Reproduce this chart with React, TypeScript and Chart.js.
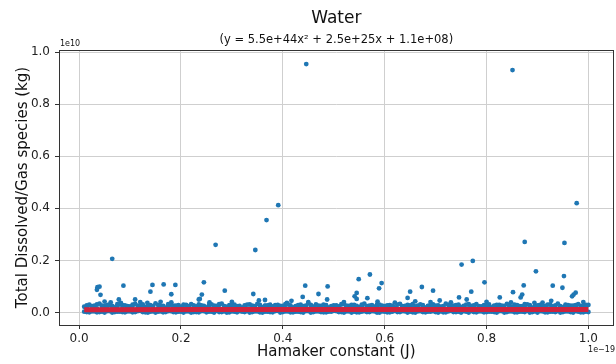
import React, { useEffect, useRef } from "react";
import { Chart, registerables } from "chart.js";

Chart.register(...registerables);

// Units: x in 1e-19 J, y in 1e10 kg
const xTicks = [0.0, 0.2, 0.4, 0.6, 0.8, 1.0];
const yTicks = [0.0, 0.2, 0.4, 0.6, 0.8, 1.0];

const bandX = [
  0.01, 0.02, 0.03, 0.04, 0.05, 0.06, 0.07, 0.08, 0.09, 0.1,
  0.11, 0.12, 0.13, 0.14, 0.15, 0.16, 0.17, 0.18, 0.19, 0.2,
  0.21, 0.22, 0.23, 0.24, 0.25, 0.26, 0.27, 0.28, 0.29, 0.3,
  0.31, 0.32, 0.33, 0.34, 0.35, 0.36, 0.37, 0.38, 0.39, 0.4,
  0.41, 0.42, 0.43, 0.44, 0.45, 0.46, 0.47, 0.48, 0.49, 0.5,
  0.51, 0.52, 0.53, 0.54, 0.55, 0.56, 0.57, 0.58, 0.59, 0.6,
  0.61, 0.62, 0.63, 0.64, 0.65, 0.66, 0.67, 0.68, 0.69, 0.7,
  0.71, 0.72, 0.73, 0.74, 0.75, 0.76, 0.77, 0.78, 0.79, 0.8,
  0.81, 0.82, 0.83, 0.84, 0.85, 0.86, 0.87, 0.88, 0.89, 0.9,
  0.91, 0.92, 0.93, 0.94, 0.95, 0.96, 0.97, 0.98, 0.99, 1.0,
];
const bandTopY = [
  0.022, 0.030, 0.026, 0.034, 0.024, 0.029, 0.020, 0.031, 0.027, 0.023,
  0.033, 0.025, 0.021, 0.028, 0.035, 0.024, 0.019, 0.030, 0.026, 0.022,
  0.029, 0.032, 0.023, 0.027, 0.020, 0.031, 0.025, 0.034, 0.022, 0.028,
  0.024, 0.019, 0.030, 0.026, 0.033, 0.021, 0.027, 0.023, 0.029, 0.025,
  0.031, 0.020, 0.028, 0.024, 0.035, 0.022, 0.026, 0.030, 0.019, 0.027,
  0.023, 0.032, 0.025, 0.029, 0.021, 0.034, 0.026, 0.022, 0.030, 0.024,
  0.028, 0.020, 0.033, 0.025, 0.027, 0.023, 0.031, 0.019, 0.029, 0.026,
  0.022, 0.034, 0.024, 0.028, 0.021, 0.030, 0.025, 0.032, 0.023, 0.027,
  0.020, 0.029, 0.026, 0.033, 0.022, 0.028, 0.024, 0.031, 0.019, 0.027,
  0.025, 0.030, 0.023, 0.034, 0.021, 0.028, 0.026, 0.032, 0.024, 0.029,
];
const bandLowY = [
  0.003, 0.001, 0.004, 0.002, 0.000, 0.005, 0.002, 0.003, 0.001, 0.004,
  0.002, 0.006, 0.001, 0.003, 0.000, 0.004, 0.002, 0.005, 0.001, 0.003,
  0.004, 0.000, 0.002, 0.005, 0.001, 0.003, 0.006, 0.002, 0.000, 0.004,
  0.001, 0.003, 0.005, 0.002, 0.004, 0.000, 0.003, 0.001, 0.006, 0.002,
  0.004, 0.001, 0.003, 0.000, 0.005, 0.002, 0.004, 0.001, 0.003, 0.006,
  0.002, 0.000, 0.004, 0.003, 0.001, 0.005, 0.002, 0.004, 0.000, 0.003,
  0.001, 0.006, 0.002, 0.004, 0.003, 0.000, 0.005, 0.001, 0.003, 0.002,
  0.004, 0.001, 0.006, 0.002, 0.000, 0.003, 0.005, 0.001, 0.004, 0.002,
  0.003, 0.000, 0.005, 0.002, 0.004, 0.001, 0.003, 0.006, 0.002, 0.000,
  0.004, 0.001, 0.003, 0.005, 0.002, 0.004, 0.000, 0.003, 0.001, 0.002,
];
const bandMidX = [
  0.015, 0.025, 0.035, 0.045, 0.055, 0.065, 0.075, 0.085, 0.095, 0.105,
  0.115, 0.125, 0.135, 0.145, 0.155, 0.165, 0.175, 0.185, 0.195, 0.205,
  0.215, 0.225, 0.235, 0.245, 0.255, 0.265, 0.275, 0.285, 0.295, 0.305,
  0.315, 0.325, 0.335, 0.345, 0.355, 0.365, 0.375, 0.385, 0.395, 0.405,
  0.415, 0.425, 0.435, 0.445, 0.455, 0.465, 0.475, 0.485, 0.495, 0.505,
  0.515, 0.525, 0.535, 0.545, 0.555, 0.565, 0.575, 0.585, 0.595, 0.605,
  0.615, 0.625, 0.635, 0.645, 0.655, 0.665, 0.675, 0.685, 0.695, 0.705,
  0.715, 0.725, 0.735, 0.745, 0.755, 0.765, 0.775, 0.785, 0.795, 0.805,
  0.815, 0.825, 0.835, 0.845, 0.855, 0.865, 0.875, 0.885, 0.895, 0.905,
  0.915, 0.925, 0.935, 0.945, 0.955, 0.965, 0.975, 0.985, 0.995,
];
const bandMidY = [
  0.018, 0.021, 0.016, 0.024, 0.019, 0.015, 0.022, 0.017, 0.020, 0.025,
  0.016, 0.019, 0.023, 0.018, 0.015, 0.021, 0.024, 0.017, 0.020, 0.016,
  0.022, 0.018, 0.025, 0.015, 0.019, 0.023, 0.017, 0.021, 0.016, 0.024,
  0.019, 0.022, 0.015, 0.020, 0.018, 0.025, 0.016, 0.021, 0.023, 0.017,
  0.020, 0.015, 0.024, 0.018, 0.022, 0.016, 0.019, 0.025, 0.017, 0.021,
  0.015, 0.023, 0.018, 0.020, 0.024, 0.016, 0.022, 0.019, 0.017, 0.021,
  0.025, 0.015, 0.020, 0.018, 0.023, 0.016, 0.021, 0.024, 0.017, 0.019,
  0.022, 0.015, 0.018, 0.025, 0.020, 0.016, 0.023, 0.019, 0.021, 0.017,
  0.024, 0.018, 0.015, 0.022, 0.020, 0.016, 0.025, 0.019, 0.021, 0.017,
  0.023, 0.016, 0.020, 0.018, 0.024, 0.015, 0.022, 0.019, 0.021,
];
const bandLow2Y = [
  0.002, 0.004, 0.001, 0.003, 0.005, 0.000, 0.003, 0.002, 0.004, 0.001,
  0.005, 0.002, 0.000, 0.004, 0.003, 0.001, 0.005, 0.002, 0.003, 0.000,
  0.004, 0.002, 0.001, 0.005, 0.003, 0.000, 0.002, 0.004, 0.001, 0.003,
  0.005, 0.002, 0.000, 0.004, 0.001, 0.003, 0.002, 0.005, 0.000, 0.004,
  0.001, 0.003, 0.002, 0.005, 0.000, 0.004, 0.002, 0.001, 0.003, 0.005,
  0.002, 0.004, 0.000, 0.001, 0.003, 0.002, 0.005, 0.000, 0.004, 0.001,
  0.003, 0.002, 0.005, 0.000, 0.001, 0.004, 0.002, 0.003, 0.005, 0.000,
  0.001, 0.004, 0.002, 0.003, 0.005, 0.000, 0.002, 0.004, 0.001, 0.003,
  0.002, 0.005, 0.000, 0.004, 0.001, 0.003, 0.002, 0.000, 0.004, 0.005,
  0.001, 0.003, 0.002, 0.000, 0.004, 0.002, 0.005, 0.001, 0.003,
];
const bandTop2Y = [
  0.027, 0.024, 0.031, 0.026, 0.029, 0.025, 0.032, 0.028, 0.024, 0.030,
  0.026, 0.031, 0.027, 0.024, 0.029, 0.025, 0.032, 0.026, 0.028, 0.030,
  0.024, 0.027, 0.031, 0.025, 0.029, 0.026, 0.032, 0.024, 0.028, 0.030,
  0.025, 0.027, 0.031, 0.024, 0.029, 0.026, 0.030, 0.028, 0.025, 0.032,
  0.027, 0.024, 0.030, 0.026, 0.029, 0.031, 0.025, 0.028, 0.024, 0.027,
  0.032, 0.026, 0.029, 0.025, 0.030, 0.024, 0.028, 0.031, 0.026, 0.027,
  0.025, 0.030, 0.024, 0.029, 0.032, 0.026, 0.028, 0.025, 0.031, 0.027,
  0.024, 0.029, 0.026, 0.030, 0.025, 0.032, 0.027, 0.024, 0.028, 0.031,
  0.026, 0.029, 0.025, 0.027, 0.030, 0.024, 0.032, 0.028, 0.026, 0.029,
  0.025, 0.031, 0.027, 0.024, 0.030, 0.026, 0.028, 0.025, 0.029,
];
const outlierX = [
  0.446, 0.851, 0.977, 0.391, 0.368, 0.875, 0.953, 0.268, 0.346, 0.065,
  0.773, 0.751, 0.897, 0.571, 0.952, 0.549, 0.245, 0.796, 0.594, 0.166,
  0.144, 0.189, 0.873, 0.087, 0.444, 0.930, 0.488, 0.040, 0.673, 0.036,
  0.949, 0.589, 0.035, 0.286, 0.695, 0.140, 0.650, 0.770, 0.852, 0.975,
  0.545, 0.342, 0.470, 0.181, 0.241, 0.971, 0.870, 0.042, 0.541, 0.968,
  0.439, 0.746, 0.826, 0.867, 0.645, 0.566, 0.237, 0.545, 0.078, 0.110,
  0.235, 0.487, 0.761, 0.365, 0.353, 0.708, 0.417, 0.927, 0.586, 0.062,
  0.181, 0.256, 0.848, 0.082, 0.134, 0.408, 0.894, 0.120, 0.300, 0.520,
  0.620, 0.690, 0.800, 0.910, 0.990, 0.050, 0.160, 0.450, 0.660, 0.730,
];
const outlierY = [
  0.954, 0.931, 0.420, 0.412, 0.355, 0.271, 0.267, 0.260, 0.240, 0.206,
  0.198, 0.184, 0.158, 0.146, 0.140, 0.128, 0.116, 0.116, 0.113, 0.108,
  0.106, 0.106, 0.104, 0.103, 0.103, 0.103, 0.100, 0.099, 0.098, 0.097,
  0.095, 0.093, 0.087, 0.084, 0.084, 0.080, 0.080, 0.080, 0.078, 0.076,
  0.075, 0.071, 0.071, 0.070, 0.069, 0.069, 0.069, 0.068, 0.062, 0.062,
  0.060, 0.058, 0.058, 0.058, 0.056, 0.055, 0.052, 0.052, 0.050, 0.050,
  0.050, 0.050, 0.050, 0.048, 0.046, 0.046, 0.045, 0.045, 0.042, 0.039,
  0.039, 0.039, 0.039, 0.037, 0.037, 0.037, 0.037, 0.040, 0.041, 0.040,
  0.038, 0.040, 0.041, 0.038, 0.040, 0.042, 0.041, 0.040, 0.043, 0.039,
];
// Fit curve y = 5.5e44x² + 2.5e25x + 1.1e8 sampled (scaled units)
const fitX = [0.01, 0.25, 0.5, 0.75, 1.0];
const fitY = [0.011, 0.0111, 0.01126, 0.0115, 0.0118];

const FONT = "'DejaVu Sans', sans-serif";
const BLUE = "#1f77b4";
const RED = "#d0223c";

const zip = (xs: number[], ys: number[]) => xs.map((x, i) => ({ x, y: ys[i] }));

const overlay = {
  id: "overlay",
  afterDraw(chart: any) {
    const { ctx, chartArea: a } = chart;
    ctx.save();
    ctx.strokeStyle = "#333";
    ctx.lineWidth = 1;
    ctx.strokeRect(Math.round(a.left) + 0.5, Math.round(a.top) + 0.5, Math.round(a.right - a.left) - 1, Math.round(a.bottom - a.top));
    const cx = (a.left + a.right) / 2;
    ctx.fillStyle = "#111";
    ctx.textAlign = "center";
    ctx.textBaseline = "middle";
    ctx.font = `17px ${FONT}`;
    ctx.fillText("Water", cx, 19);
    ctx.font = `11.5px ${FONT}`;
    ctx.fillText("(y = 5.5e+44x² + 2.5e+25x + 1.1e+08)", cx, 40);
    ctx.font = `15px ${FONT}`;
    ctx.fillText("Hamaker constant (J)", cx, 352);
    ctx.save();
    ctx.translate(23, (a.top + a.bottom) / 2);
    ctx.rotate(-Math.PI / 2);
    ctx.fillText("Total Dissolved/Gas species (kg)", 0, 0);
    ctx.restore();
    ctx.font = `8px ${FONT}`;
    ctx.textAlign = "left";
    ctx.fillText("1e10", a.left + 1, a.top - 6);
    ctx.textAlign = "right";
    ctx.fillText("1e\u221219", 615, 350);
    ctx.restore();
  },
};

export default function App() {
  const ref = useRef<HTMLCanvasElement>(null);
  useEffect(() => {
    if (!ref.current) return;
    const pointStyle = {
      backgroundColor: BLUE,
      borderWidth: 0,
      pointRadius: 2.4,
      pointHoverRadius: 2.4,
      order: 1,
    };
    const chart = new Chart(ref.current, {
      type: "scatter",
      data: {
        datasets: [
          { label: "low", data: zip(bandX, bandLowY), ...pointStyle },
          { label: "low2", data: zip(bandMidX, bandLow2Y), ...pointStyle },
          { label: "mid", data: zip(bandMidX, bandMidY), ...pointStyle },
          { label: "top", data: zip(bandX, bandTopY), ...pointStyle },
          { label: "top2", data: zip(bandMidX, bandTop2Y), ...pointStyle },
          { label: "out", data: zip(outlierX, outlierY), ...pointStyle },
          {
            label: "fit",
            data: zip(fitX, fitY),
            showLine: true,
            borderColor: RED,
            borderWidth: 5,
            pointRadius: 0,
            order: 0,
          } as any,
        ],
      },
      options: {
        animation: false,
        responsive: false,
        devicePixelRatio: 1,
        layout: { padding: { top: 50, right: 1, left: 0, bottom: 0 } },
        plugins: { legend: { display: false }, title: { display: false }, tooltip: { enabled: false } },
        scales: {
          x: {
            type: "linear",
            min: -0.0395,
            max: 1.0495,
            afterBuildTicks: (s: any) => { s.ticks = xTicks.map((v) => ({ value: v })); },
            afterFit: (s: any) => { s.height = 39; },
            ticks: {
              callback: (v: any) => Number(v).toFixed(1),
              font: { size: 12, family: FONT },
              color: "#222",
              padding: 3,
              maxRotation: 0,
              autoSkip: false,
            },
            grid: { color: "#cfcfcf", tickLength: 4, tickColor: "#333" },
            border: { display: false },
          },
          y: {
            type: "linear",
            min: -0.048,
            max: 1.008,
            afterBuildTicks: (s: any) => { s.ticks = yTicks.map((v) => ({ value: v })); },
            afterFit: (s: any) => { s.width = 59; },
            ticks: {
              callback: (v: any) => Number(v).toFixed(1),
              font: { size: 12, family: FONT },
              color: "#222",
              padding: 5,
              autoSkip: false,
            },
            grid: { color: "#cfcfcf", tickLength: 4, tickColor: "#333" },
            border: { display: false },
          },
        },
      },
      plugins: [overlay],
    });
    return () => chart.destroy();
  }, []);
  return (
    <div style={{ position: "fixed", left: 0, top: 0, width: 616, height: 364, background: "#fff" }}>
      <canvas ref={ref} width={616} height={364} />
    </div>
  );
}
